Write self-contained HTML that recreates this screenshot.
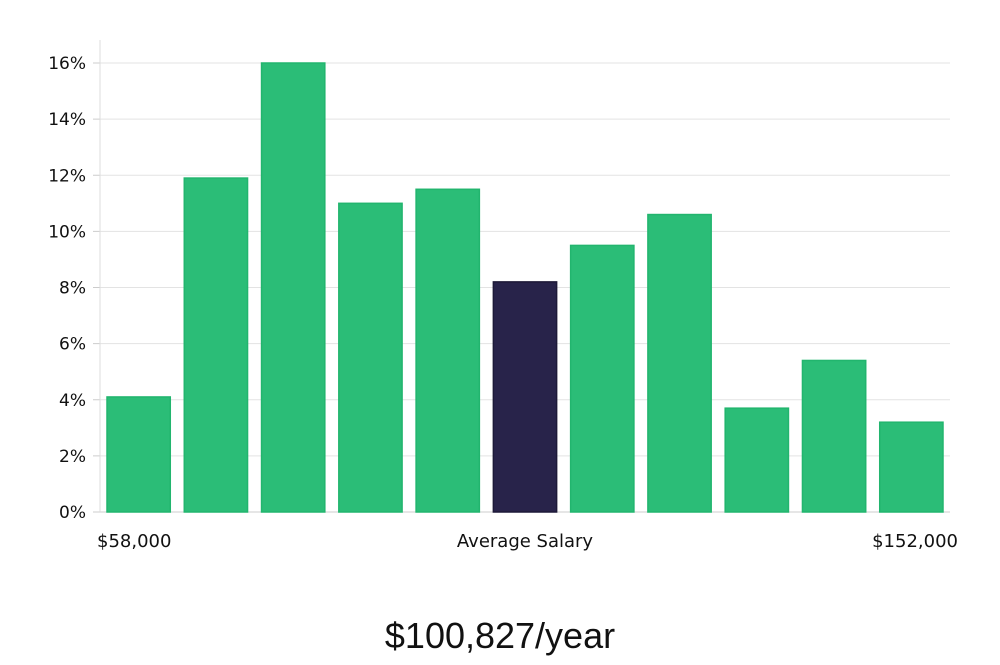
<!DOCTYPE html>
<html><head><meta charset="utf-8"><style>
html,body{margin:0;padding:0;background:#fff;}
svg text{font-family:"DejaVu Sans","Liberation Sans",sans-serif;}
</style></head><body>
<svg id="chart" width="1000" height="660" xmlns="http://www.w3.org/2000/svg">
<g id="grid"></g>
<g id="yticks"></g>
<g id="bars"></g>
<line x1="100" y1="40" x2="100" y2="512" stroke="#ddd" stroke-width="1"/>
<text x="97" y="547" font-size="18" fill="#111">$58,000</text>
<text x="525" y="547" font-size="18" fill="#111" text-anchor="middle">Average Salary</text>
<text x="958" y="547" font-size="18" fill="#111" text-anchor="end">$152,000</text>
<text x="500" y="648" font-size="36" fill="#111" text-anchor="middle" style="font-family:'Liberation Sans',sans-serif;font-weight:300">$100,827/year</text>
</svg>
<script>
const values = [4.1, 11.9, 16.0, 11.0, 11.5, 8.2, 9.5, 10.6, 3.7, 5.4, 3.2];
const highlightIndex = 5;
const yTicks = [0, 2, 4, 6, 8, 10, 12, 14, 16];
const tickLabels = ["0%", "2%", "4%", "6%", "8%", "10%", "12%", "14%", "16%"];
const NS = "http://www.w3.org/2000/svg";
const plotL = 100, plotR = 950, y0 = 512, y16 = 63;
function yScale(v){ return y0 - (v/16)*(y0-y16); }
const slot = (plotR - plotL) / values.length;
function xScale(i){ return plotL + i*slot + 7; }
const grid = document.getElementById('grid'), yt = document.getElementById('yticks'), bars = document.getElementById('bars');
yTicks.forEach((t,i)=>{
  const y = yScale(t);
  const l = document.createElementNS(NS,'line');
  l.setAttribute('x1',plotL); l.setAttribute('x2',plotR); l.setAttribute('y1',y); l.setAttribute('y2',y);
  l.setAttribute('stroke', t===0 ? '#ccc' : '#e3e3e3');
  
  
  grid.appendChild(l);
  const tx = document.createElementNS(NS,'text');
  tx.setAttribute('x', 86); tx.setAttribute('y', y+6);
  tx.setAttribute('text-anchor','end'); tx.setAttribute('font-size','17'); tx.setAttribute('fill','#111');
  tx.textContent = tickLabels[i];
  
  
  yt.appendChild(tx);
  const tk = document.createElementNS(NS,'line');
  tk.setAttribute('x1',93); tk.setAttribute('x2',100); tk.setAttribute('y1',y); tk.setAttribute('y2',y);
  tk.setAttribute('stroke','#ccc');
  
  
  yt.appendChild(tk);
});
values.forEach((v,i)=>{
  const r = document.createElementNS(NS,'rect');
  const top = yScale(v);
  r.setAttribute('x', xScale(i)); r.setAttribute('y', top);
  r.setAttribute('width', slot-14); r.setAttribute('height', y0-top);
  const hi = i===highlightIndex;
  r.setAttribute('fill', hi ? '#28234a' : '#2bbd77');
  r.setAttribute('stroke', hi ? '#1d1938' : '#22b56e');
  r.setAttribute('stroke-width','1.5');
  
  
  bars.appendChild(r);
});
</script>
</body></html>
